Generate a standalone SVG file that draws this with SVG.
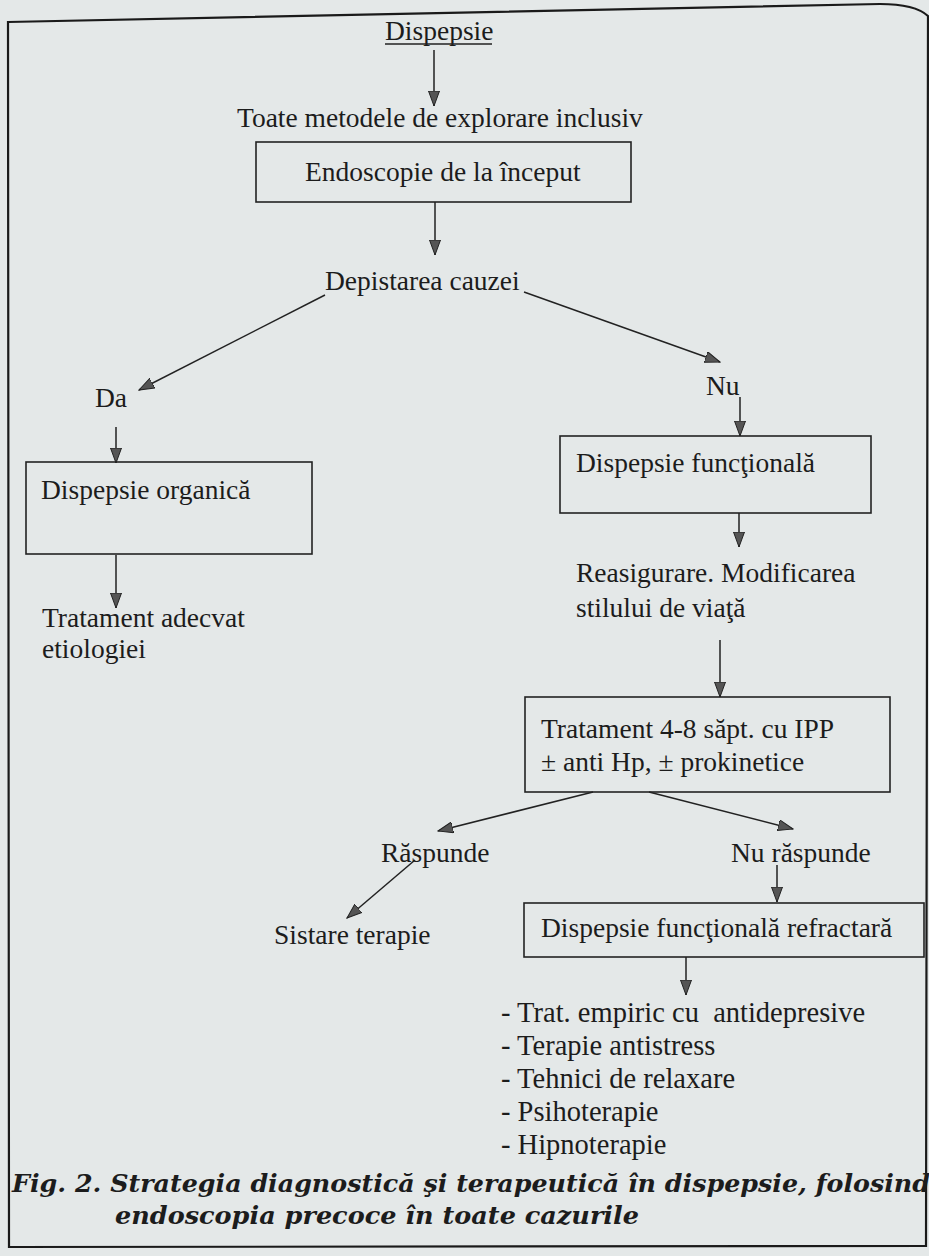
<svg xmlns="http://www.w3.org/2000/svg" width="929" height="1256" viewBox="0 0 929 1256">
<style>
.t{font-family:"Liberation Serif","Times New Roman",serif;font-size:27.5px;fill:#1c1c1c;white-space:pre}
.l{font-size:28.5px}
.cap{font-family:"DejaVu Serif","Liberation Serif",serif;font-size:24px;font-weight:bold;font-style:italic;fill:#1c1c1c}
.box{fill:none;stroke:#222;stroke-width:1.6}
.c{fill:none;stroke:#222;stroke-width:1.5;marker-end:url(#ah)}
.frame{fill:none;stroke:#1a1a1a;stroke-width:2.2}
</style>
<defs>
<marker id="ah" markerUnits="userSpaceOnUse" markerWidth="16" markerHeight="12" viewBox="0 0 16 12" refX="15" refY="6" orient="auto">
<path d="M0,0.5 L15,6 L0,11.5 Z" fill="#555" stroke="#222" stroke-width="1"/>
</marker>
</defs>
<rect x="0" y="0" width="929" height="1256" fill="#e4e8e8"/>
<g id="frame">
<path class="frame" d="M8,22 L880,4 Q915,4 928,16 L926,1246 L9,1247 Z"/>
</g>
<g id="connectors">
<line class="c" x1="434" y1="50" x2="434" y2="106"/>
<line class="c" x1="435" y1="202" x2="435" y2="255"/>
<line class="c" x1="325" y1="295" x2="139" y2="390"/>
<line class="c" x1="524" y1="292" x2="720" y2="362"/>
<line class="c" x1="740" y1="397" x2="740" y2="436"/>
<line class="c" x1="116" y1="427" x2="116" y2="463"/>
<line class="c" x1="116" y1="555" x2="116" y2="608"/>
<line class="c" x1="739" y1="513" x2="739" y2="547"/>
<line class="c" x1="720" y1="640" x2="720" y2="697"/>
<line class="c" x1="593" y1="792" x2="438" y2="831"/>
<line class="c" x1="649" y1="792" x2="793" y2="829"/>
<line class="c" x1="415" y1="860" x2="347" y2="918"/>
<line class="c" x1="777" y1="865" x2="777" y2="902"/>
<line class="c" x1="686" y1="957" x2="686" y2="995"/>
</g>
<g id="n-dispepsie">
<text class="t" x="385" y="40">Dispepsie</text>
<line x1="385" y1="44" x2="492" y2="44" stroke="#222" stroke-width="1.4"/>
</g>
<g id="n-toate">
<text class="t" x="237" y="127">Toate metodele de explorare inclusiv</text>
</g>
<g id="n-endoscopie">
<rect class="box" x="256" y="142" width="375" height="60"/>
<text class="t" x="305" y="181">Endoscopie de la început</text>
</g>
<g id="n-depistarea">
<text class="t" x="325" y="290">Depistarea cauzei</text>
</g>
<g id="n-da">
<text class="t" x="95" y="407">Da</text>
</g>
<g id="n-nu">
<text class="t" x="706" y="395">Nu</text>
</g>
<g id="n-organica">
<rect class="box" x="26" y="462" width="286" height="92"/>
<text class="t" x="41" y="499">Dispepsie organică</text>
</g>
<g id="n-functionala">
<rect class="box" x="560" y="436" width="311" height="77"/>
<text class="t" x="576" y="472">Dispepsie funcţională</text>
</g>
<g id="n-tratament-adecvat">
<text class="t" x="42" y="627">Tratament adecvat</text>
<text class="t" x="42" y="658">etiologiei</text>
</g>
<g id="n-reasigurare">
<text class="t" x="576" y="582">Reasigurare. Modificarea</text>
<text class="t" x="576" y="617">stilului de viaţă</text>
</g>
<g id="n-tratament-ipp">
<rect class="box" x="525" y="697" width="365" height="95"/>
<text class="t" x="541" y="738">Tratament 4-8 săpt. cu IPP</text>
<text class="t" x="541" y="771">± anti Hp, ± prokinetice</text>
</g>
<g id="n-raspunde">
<text class="t" x="381" y="862">Răspunde</text>
</g>
<g id="n-nu-raspunde">
<text class="t" x="731" y="862">Nu răspunde</text>
</g>
<g id="n-sistare">
<text class="t" x="274" y="944">Sistare terapie</text>
</g>
<g id="n-refractara">
<rect class="box" x="524" y="903" width="400" height="54"/>
<text class="t" x="541" y="937">Dispepsie funcţională refractară</text>
</g>
<g id="n-lista">
<text class="t l" x="501" y="1022">- Trat. empiric cu  antidepresive</text>
<text class="t l" x="501" y="1055">- Terapie antistress</text>
<text class="t l" x="501" y="1088">- Tehnici de relaxare</text>
<text class="t l" x="501" y="1121">- Psihoterapie</text>
<text class="t l" x="501" y="1154">- Hipnoterapie</text>
</g>
<g id="caption">
<text class="cap" x="12" y="1192" textLength="918" lengthAdjust="spacingAndGlyphs">Fig. 2. Strategia diagnostică şi terapeutică în dispepsie, folosind</text>
<text class="cap" x="115" y="1224" textLength="524" lengthAdjust="spacingAndGlyphs">endoscopia precoce în toate cazurile</text>
</g>
</svg>
